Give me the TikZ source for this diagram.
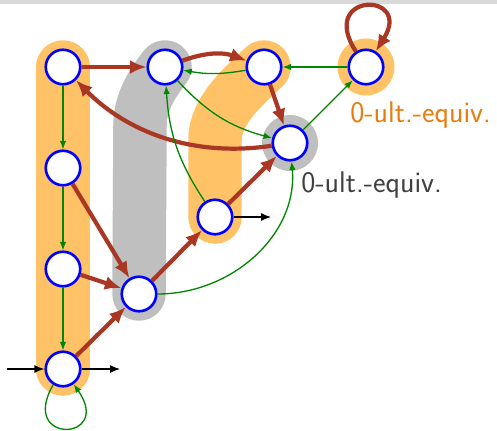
\documentclass[tikz,border=0pt]{standalone}
\usetikzlibrary{arrows.meta}
\definecolor{tubeor}{RGB}{255,194,102}
\definecolor{tubegr}{RGB}{191,191,191}
\definecolor{brn}{RGB}{170,55,35}
\definecolor{grn}{RGB}{0,135,0}
\definecolor{lblor}{RGB}{232,124,12}
\definecolor{lblgr}{RGB}{64,64,64}
\begin{document}
\begin{tikzpicture}[x=0.02cm,y=-0.02cm,
  st/.style={circle,draw=blue,fill=white,line width=1.5pt,minimum size=0.69cm,inner sep=0pt},
  tube/.style={line width=1.07cm,line cap=round,line join=round},
  big/.style={draw=brn,line width=2.4pt,-{Latex[length=0.33cm,width=0.28cm]}},
  thin/.style={draw=grn,line width=0.75pt,-{Latex[length=0.17cm,width=0.13cm]}},
  blk/.style={draw=black,line width=0.7pt,-{Latex[length=0.2cm,width=0.16cm]}},
  lbl/.style={font=\sffamily\fontsize{17}{20}\selectfont,anchor=base west,inner sep=0pt}]
\useasboundingbox (0,0) rectangle (497,430);
\fill[gray!30] (0,0) rectangle (497,4);
% positions
\coordinate (pA) at (63,67);
\coordinate (pB) at (63,168);
\coordinate (pC) at (63,269);
\coordinate (pD) at (63,369);
\coordinate (pE) at (139,294);
\coordinate (pF) at (165,67);
\coordinate (pG) at (215,217);
\coordinate (pH) at (264,67);
\coordinate (pI) at (290,143);
\coordinate (pJ) at (366,67);
% tubes
\draw[tube,tubeor] (pA) -- (pD);
\draw[tube,tubegr] (pE) -- (140,125) .. controls (140,100) and (155,80) .. (pF);
\draw[tube,tubeor] (pG) -- (215,140) .. controls (215,110) and (245,85) .. (pH);
\fill[tubeor] (pJ) circle (0.57cm);
\fill[tubegr] (pI) circle (0.56cm);
% states
\node[st] (A) at (pA) {};
\node[st] (B) at (pB) {};
\node[st] (C) at (pC) {};
\node[st] (D) at (pD) {};
\node[st] (E) at (pE) {};
\node[st] (F) at (pF) {};
\node[st] (G) at (pG) {};
\node[st] (H) at (pH) {};
\node[st] (I) at (pI) {};
\node[st] (J) at (pJ) {};
% brown transitions
\draw[big] (A) -- (F);
\draw[big] (F) to[bend left=20] (H);
\draw[big] (H) -- (I);
\draw[big] (I) .. controls (190,158) and (125,130) .. (A);
\draw[big] (B) -- (E);
\draw[big] (C) -- (E);
\draw[big] (D) -- (E);
\draw[big] (E) -- (G);
\draw[big] (G) -- (I);
\draw[big] (J.123) .. controls +(123:1.42cm) and +(58:1.42cm) .. (J.58);
% green transitions
\draw[thin] (A) -- (B);
\draw[thin] (B) -- (C);
\draw[thin] (C) -- (D);
\draw[thin] (D.-122) .. controls +(-120:1.4cm) and +(-55:1.4cm) .. (D.-55);
\draw[thin] (H) to[bend left=10] (F);
\draw[thin] (F) to[bend right=16] (I);
\draw[thin] (G) to[bend left=15] (F);
\draw[thin] (E) to[out=0,in=-85] (I);
\draw[thin] (I) -- (J);
\draw[thin] (J) -- (H);
% initial / final
\coordinate (din) at (7,369);
\coordinate (dout) at (120,369);
\coordinate (gout) at (271,217);
\draw[blk] (din) -- (D);
\draw[blk] (D) -- (dout);
\draw[blk] (G) -- (gout);
% labels
\node[lbl,text=lblor] (lo) at (350,122.5) {0-ult.-equiv.};
\node[lbl,text=lblgr] (lg) at (301,192.5) {0-ult.-equiv.};
\end{tikzpicture}
\end{document}
